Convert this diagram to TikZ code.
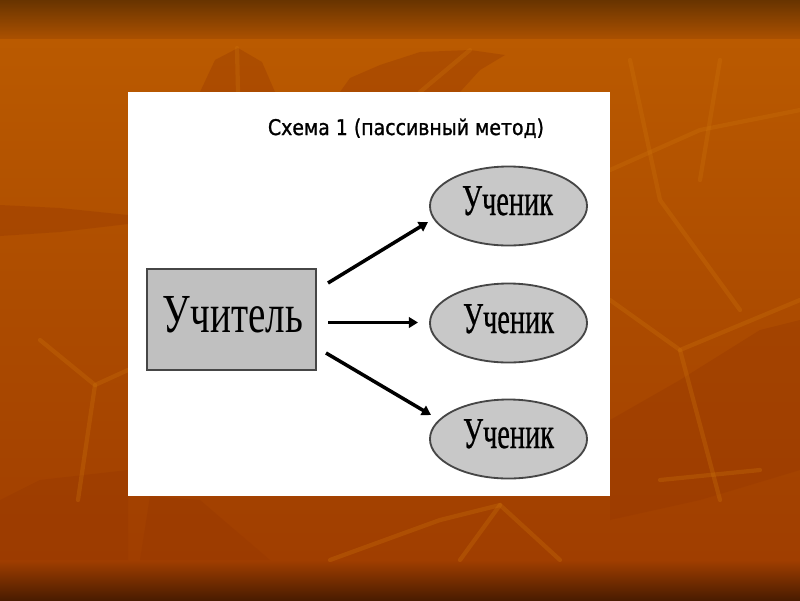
\documentclass[tikz,border=0pt]{standalone}
\usepackage{fontspec}
\setmainfont{Liberation Serif}
\newfontfamily\titlefont[FakeBold=1.2]{DejaVu Sans}
\newfontfamily\pupilfont[FakeBold=0.6]{Liberation Serif}
\usetikzlibrary{shapes.geometric,arrows.meta}
\definecolor{topdark}{RGB}{104,52,0}
\definecolor{toplight}{RGB}{170,80,0}
\definecolor{bgtop}{RGB}{186,90,0}
\definecolor{bgbot}{RGB}{160,62,0}
\definecolor{botdark}{RGB}{74,28,0}
\definecolor{leafdark}{RGB}{150,55,0}
\definecolor{leaflight}{RGB}{205,115,10}
\definecolor{boxgray}{RGB}{192,192,192}
\definecolor{ellgray}{RGB}{200,200,200}
\definecolor{edgegray}{RGB}{70,70,70}
\tikzset{
  teacherbox/.style={draw=edgegray, line width=0.9pt, fill=boxgray, rectangle,
    minimum width=4.225cm, minimum height=2.525cm, inner sep=0, outer sep=0},
  pupil/.style={draw=edgegray, line width=1.3pt, fill=ellgray, ellipse,
    minimum width=3.925cm, minimum height=1.975cm, inner sep=0, outer sep=0},
  lbl/.style={anchor=base, inner sep=0, outer sep=0},
  arr/.style={draw=black, line width=2.5pt, -{Triangle[length=6.5pt,width=7.5pt]}},
  veinlight/.style={draw=leaflight, line width=3pt, opacity=0.3, line cap=round},
  leafshape/.style={fill=leafdark, opacity=0.35}
}
\begin{document}
\begin{tikzpicture}[x=0.025cm,y=-0.025cm]
\useasboundingbox (0,0) rectangle (800,600);
% background
\shade[top color=bgtop, bottom color=bgbot] (0,38) rectangle (800,560);
\shade[top color=topdark, bottom color=toplight] (0,0) rectangle (800,38);
\shade[top color=bgbot, bottom color=botdark] (0,560) rectangle (800,600);
% faint leaves
\fill[leafshape] (0,205) -- (60,208) -- (128,215) -- (128,224) -- (60,232) -- (0,236) -- cycle;
\fill[leafshape] (340,92) -- (350,78) -- (380,65) -- (420,52) -- (470,50) -- (505,55) -- (480,70) -- (460,92) -- cycle;
\fill[leafshape] (200,92) -- (215,60) -- (238,48) -- (262,62) -- (275,92) -- cycle;
\fill[leafshape] (0,500) -- (40,480) -- (128,470) -- (128,560) -- (0,560) -- cycle;
\fill[leafshape] (610,420) -- (680,380) -- (760,330) -- (800,320) -- (800,470) -- (700,500) -- (610,520) -- cycle;
\fill[leafshape] (150,496) -- (200,500) -- (270,560) -- (140,560) -- cycle;
\draw[veinlight] (420,92) -- (470,50);
\draw[veinlight] (237,48) -- (238,92);
\draw[veinlight] (40,340) -- (95,385) -- (128,370);
\draw[veinlight] (95,385) -- (78,500);
\draw[veinlight] (330,560) -- (440,520) -- (500,505) -- (560,560);
\draw[veinlight] (500,505) -- (460,560);
\draw[veinlight] (610,170) -- (700,130) -- (800,110);
\draw[veinlight] (630,60) -- (660,200) -- (740,310);
\draw[veinlight] (720,60) -- (700,180);
\draw[veinlight] (610,300) -- (680,350) -- (800,300);
\draw[veinlight] (680,350) -- (720,500);
\draw[veinlight] (660,480) -- (760,470);
% white panel
\fill[white] (128,92) rectangle (610,496);
% title
\node[lbl] (title) at (406,135) {\resizebox{6.9cm}{0.41cm}{\titlefont Схема 1 (пассивный метод)}};
% teacher
\node[teacherbox] (teacher) at (231.5,319.5) {};
\node[lbl] (teacherlbl) at (233,332) {\resizebox{3.5cm}{0.9cm}{Учитель}};
% pupils
\node[pupil] (p1) at (508.5,206) {};
\node[pupil] (p2) at (508.5,323) {};
\node[pupil] (p3) at (508.5,439) {};
\node[lbl] (p1lbl) at (507.5,215) {\resizebox{2.275cm}{0.72cm}{\pupilfont Ученик}};
\node[lbl] (p2lbl) at (508.5,333) {\resizebox{2.275cm}{0.72cm}{\pupilfont Ученик}};
\node[lbl] (p3lbl) at (508.5,448) {\resizebox{2.275cm}{0.72cm}{\pupilfont Ученик}};
% arrows
\coordinate (a1s) at (328,283);
\coordinate (a1e) at (428,222);
\coordinate (a2s) at (328,322.5);
\coordinate (a2e) at (418,322.5);
\coordinate (a3s) at (326,353);
\coordinate (a3e) at (431,415);
\draw[arr] (a1s) -- (a1e);
\draw[arr] (a2s) -- (a2e);
\draw[arr] (a3s) -- (a3e);
\end{tikzpicture}
\end{document}
